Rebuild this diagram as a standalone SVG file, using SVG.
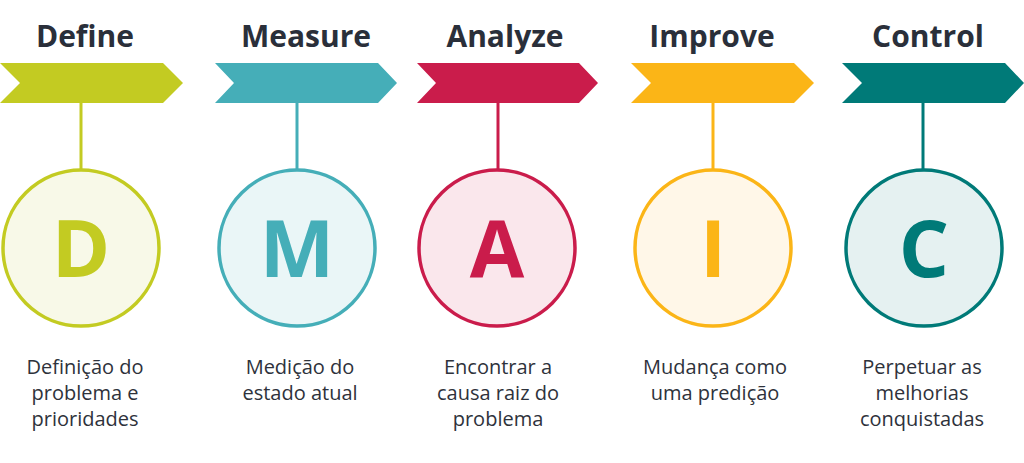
<svg xmlns="http://www.w3.org/2000/svg" width="1024" height="463" viewBox="0 0 1024 463">
<style>
.h{font-family:"Open Sans","Liberation Sans",sans-serif;font-weight:700;font-size:30px;fill:#2A2F3A;text-anchor:middle}
.l{font-family:"Open Sans","Liberation Sans",sans-serif;font-weight:700;font-size:79px;text-anchor:middle}
.d{font-family:"Open Sans","Liberation Sans",sans-serif;font-size:20px;fill:#2E323B;text-anchor:middle}
.c{stroke-width:3.5}
.k{stroke-width:3;fill:none}
</style>
<rect width="1024" height="463" fill="#FFFFFF"/>
<g id="connectors">
<line class="k" x1="81" y1="103" x2="81" y2="170" stroke="#C3CB22"/>
<line class="k" x1="297" y1="103" x2="297" y2="170" stroke="#45AEB8"/>
<line class="k" x1="498" y1="103" x2="498" y2="170" stroke="#CA1C4B"/>
<line class="k" x1="713" y1="103" x2="713" y2="170" stroke="#FBB517"/>
<line class="k" x1="923" y1="103" x2="923" y2="170" stroke="#007A78"/>
</g>
<g id="define">
<text class="h" x="85" y="47">Define</text>
<polygon points="0,63 163,63 183,83 163,103 0,103 20,83" fill="#C3CB22"/>
<circle class="c" cx="81" cy="248" r="78" fill="#F8F9E8" stroke="#C3CB22"/>
<text class="l" x="81" y="277" fill="#C3CB22">D</text>
<text class="d" x="85" y="374">Definição do</text>
<text class="d" x="85" y="400">problema e</text>
<text class="d" x="85" y="426">prioridades</text>
</g>
<g id="measure">
<text class="h" x="306" y="47">Measure</text>
<polygon points="215,63 378,63 397,83 378,103 215,103 234,83" fill="#45AEB8"/>
<circle class="c" cx="297" cy="248" r="78" fill="#EAF6F7" stroke="#45AEB8"/>
<text class="l" x="297" y="277" fill="#45AEB8">M</text>
<text class="d" x="300" y="374">Medição do</text>
<text class="d" x="300" y="400">estado atual</text>
</g>
<g id="analyze">
<text class="h" x="505" y="47">Analyze</text>
<polygon points="417,63 579,63 598,83 579,103 417,103 436,83" fill="#CA1C4B"/>
<circle class="c" cx="497" cy="248" r="78" fill="#FAE7EC" stroke="#CA1C4B"/>
<text class="l" x="497" y="277" fill="#CA1C4B">A</text>
<text class="d" x="498" y="374">Encontrar a</text>
<text class="d" x="498" y="400">causa raiz do</text>
<text class="d" x="498" y="426">problema</text>
</g>
<g id="improve">
<text class="h" x="712" y="47">Improve</text>
<polygon points="631,63 794,63 814,83 794,103 631,103 651,83" fill="#FBB517"/>
<circle class="c" cx="713" cy="248" r="78" fill="#FFF7E8" stroke="#FBB517"/>
<text class="l" x="713" y="277" fill="#FBB517">I</text>
<text class="d" x="715" y="374">Mudança como</text>
<text class="d" x="715" y="400">uma predição</text>
</g>
<g id="control">
<text class="h" x="928" y="47">Control</text>
<polygon points="842,63 1005,63 1024,83 1005,103 842,103 862,83" fill="#007A78"/>
<circle class="c" cx="924" cy="248" r="78" fill="#E5F1F1" stroke="#007A78"/>
<text class="l" x="924" y="277" fill="#007A78">C</text>
<text class="d" x="922" y="374">Perpetuar as</text>
<text class="d" x="922" y="400">melhorias</text>
<text class="d" x="922" y="426">conquistadas</text>
</g>
</svg>
